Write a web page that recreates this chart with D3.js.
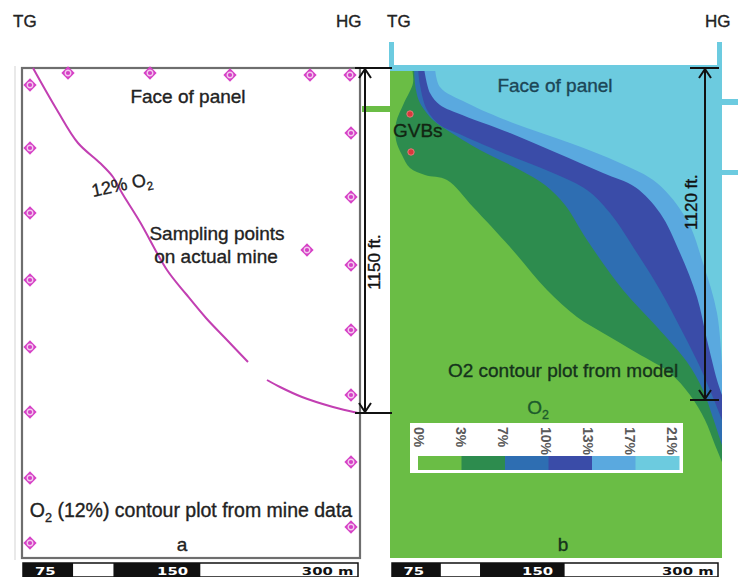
<!DOCTYPE html>
<head>
  <meta charset="utf-8">
  <script src="https://d3js.org/d3.v7.min.js"></script>
  <style>
    body { margin: 0; background: #fff; }
    text { font-family: "Liberation Sans", Arial, sans-serif; }
    .bar-label { font-family: "DejaVu Sans", sans-serif; font-weight: bold; font-size: 11px; }
  </style>
</head>
<body>
  <svg id="svg1"></svg>
  <script>
    var width = 738;
    var height = 577;

    // --- left panel: sampling points (panel units, 0..338 x 0..490)
    var sampleTopX = [8, 46, 128, 208, 288, 328];
    var sampleTopY = [17, 5, 5, 7, 7, 7];
    var sampleLeftY = [80, 145, 212, 279, 344, 410, 475];
    var sampleRightY = [65, 129, 197, 262, 327, 394, 459];
    var sampleInner = [[285, 182]];

    // 12% O2 contour traced from mine data (two pieces)
    var contour12a = [[11, 0], [35, 42], [56, 75], [78, 95], [91, 109], [100, 125], [118, 154],
                      [145, 202], [164, 226], [184, 250], [205, 272], [226, 294]];
    var contour12b = [[245, 312], [258, 319], [280, 329], [311, 339], [336, 345]];

    // --- right panel: model contour band edges (panel units, 0..332 x 0..490)
    var edge3 = [[22, 0], [23, 15], [14, 35], [6, 55], [6, 72], [12, 87], [20, 100], [35, 107], [57, 112],
                 [83, 139], [120, 179], [157, 222], [187, 249], [213, 265], [247, 285], [280, 305],
                 [300, 327], [315, 352], [325, 377], [332, 394]];
    var edge7 = [[24, 0], [26, 22], [30, 35], [43, 52], [57, 62], [90, 82], [130, 102], [155, 117],
                 [175, 137], [197, 172], [233, 222], [267, 259], [297, 294], [313, 322], [323, 350], [332, 377]];
    var edge10 = [[28, 0], [30, 17], [37, 42], [50, 57], [67, 65], [113, 85], [163, 105], [197, 122],
                  [220, 145], [247, 185], [270, 222], [293, 265], [310, 299], [322, 327], [332, 352]];
    var edge13 = [[34, 0], [40, 25], [50, 37], [67, 45], [120, 65], [167, 85], [213, 105], [245, 119],
                  [270, 145], [290, 185], [307, 229], [317, 272], [327, 312], [332, 327]];
    var edge17 = [[45, 0], [50, 19], [77, 35], [123, 55], [180, 75], [230, 95], [267, 115], [297, 152],
                  [313, 195], [327, 245], [332, 297]];
    var bandEdges = [edge3, edge7, edge10, edge13, edge17];

    var legendLabels = ["0%", "3%", "7%", "10%", "13%", "17%", "21%"];
    var bandColors = ["#6abd45", "#2d8c4e", "#2e6eb2", "#3a4ca8", "#5aa9df", "#6ccbdf"];

    // GVB locations (right panel units)
    var gvbPts = [[20, 46], [21, 84]];

    // scale bar (m)
    var barBreaks = [0, 45, 81, 159, 300];
    var barTexts = ["75", "150", "300 m"];
    var barTextPos = [20, 134, 296];

    var svg = d3.select("#svg1")
      .attr("width", width)
      .attr("height", height);

    var xL = d3.scaleLinear().domain([0, 338]).range([22, 360]);
    var yL = d3.scaleLinear().domain([0, 490]).range([68, 558]);
    var xR = d3.scaleLinear().domain([0, 332]).range([390, 722]);
    var yR = d3.scaleLinear().domain([0, 490]).range([68, 558]);

    //helper for text with O2 subscripts (thin stroke to mimic the heavier scanned type)
    function label(x, y, parts, size, color, anchor) {
      var t = svg.append("text")
        .attr("x", x).attr("y", y)
        .attr("font-size", size)
        .attr("fill", color)
        .attr("stroke", color)
        .attr("stroke-width", 0.35)
        .attr("text-anchor", anchor || "middle");
      parts.forEach(function(p) {
        if (p.sub) {
          t.append("tspan").attr("dy", size * 0.28).attr("font-size", size * 0.65).text(p.s);
        } else {
          t.append("tspan").attr("dy", p.after ? -size * 0.28 : 0).text(p.s);
        }
      });
      return t;
    }

    // ===== left panel =====
    svg.append("line")
      .attr("x1", 15).attr("x2", 15).attr("y1", 66).attr("y2", 560)
      .attr("stroke", "#e2e2e2").attr("stroke-width", 1.5);
    svg.append("rect")
      .attr("x", xL(0)).attr("y", yL(0))
      .attr("width", xL(338) - xL(0)).attr("height", yL(490) - yL(0))
      .attr("fill", "#fff")
      .attr("stroke", "#6e6e6e").attr("stroke-width", 2.2);

    var line = d3.line()
      .x(function(d) { return xL(d[0]); })
      .y(function(d) { return yL(d[1]); })
      .curve(d3.curveCatmullRom);

    [contour12a, contour12b].forEach(function(c) {
      svg.append("path")
        .attr("d", line(c))
        .attr("fill", "none")
        .attr("stroke", "#c23fb2")
        .attr("stroke-width", 2);
    });

    var samples = [];
    sampleTopX.forEach(function(x, i) { samples.push([x, sampleTopY[i]]); });
    sampleLeftY.forEach(function(y) { samples.push([8, y]); });
    sampleRightY.forEach(function(y) { samples.push([329, y]); });
    sampleInner.forEach(function(p) { samples.push(p); });

    var marks = svg.selectAll(".sample")
      .data(samples).enter()
      .append("g")
      .attr("class", "sample")
      .attr("transform", function(d) { return "translate(" + xL(d[0]) + "," + yL(d[1]) + ")"; });
    marks.append("path")
      .attr("d", d3.symbol().type(d3.symbolSquare).size(88))
      .attr("transform", "rotate(45)")
      .attr("fill", "#d641c6");
    marks.append("circle")
      .attr("r", 2.8)
      .attr("fill", "none")
      .attr("stroke", "#f3c9ee")
      .attr("stroke-width", 1.4);
    marks.append("circle")
      .attr("r", 1)
      .attr("fill", "#d641c6");

    label(188, 103, [{s: "Face of panel"}], 19, "#222");
    label(93, 197, [{s: "12% O"}, {s: "2", sub: true}], 18, "#222", "start")
      .attr("transform", "rotate(-12,93,197)");
    label(217, 240, [{s: "Sampling points"}], 19, "#222");
    label(216, 263, [{s: "on actual mine"}], 19, "#222");
    label(191, 517, [{s: "O"}, {s: "2", sub: true}, {s: " (12%) contour plot from mine data", after: true}], 19.5, "#222");
    label(182, 551, [{s: "a"}], 19, "#222");

    // ===== right panel =====
    svg.append("rect")
      .attr("x", xR(0)).attr("y", yR(0))
      .attr("width", xR(332) - xR(0)).attr("height", yR(490) - yR(0))
      .attr("fill", bandColors[0]);

    var bandLine = d3.line()
      .x(function(d) { return xR(d[0]); })
      .y(function(d) { return yR(d[1]); })
      .curve(d3.curveCatmullRom);

    bandEdges.forEach(function(edge, i) {
      svg.append("path")
        .attr("d", bandLine(edge) + "L" + xR(332) + "," + yR(0) + "Z")
        .attr("fill", bandColors[i + 1]);
    });

    // face strip and gate markers
    svg.append("rect").attr("x", xR(0)).attr("y", 65).attr("width", xR(332) - xR(0)).attr("height", 6).attr("fill", "#6ccbe0");
    svg.append("rect").attr("x", 389).attr("y", 42).attr("width", 5).attr("height", 26).attr("fill", "#6ccbe0");
    svg.append("rect").attr("x", 717).attr("y", 42).attr("width", 5).attr("height", 26).attr("fill", "#6ccbe0");
    svg.append("rect").attr("x", 722).attr("y", 99).attr("width", 16).attr("height", 6).attr("fill", "#6ccbe0");
    svg.append("rect").attr("x", 722).attr("y", 170).attr("width", 16).attr("height", 5).attr("fill", "#6ccbe0");
    svg.append("rect").attr("x", 362).attr("y", 106).attr("width", 28).attr("height", 6).attr("fill", bandColors[0]);

    svg.selectAll(".gvb")
      .data(gvbPts).enter()
      .append("circle")
      .attr("class", "gvb")
      .attr("cx", function(d) { return xR(d[0]); })
      .attr("cy", function(d) { return yR(d[1]); })
      .attr("r", 3.2)
      .attr("fill", "#d9383c")
      .attr("stroke", "#e77a7a")
      .attr("stroke-width", 1);

    label(555, 92, [{s: "Face of panel"}], 19, "#1c4656");
    label(393, 137, [{s: "GVBs"}], 19, "#122512", "start");
    label(563, 377, [{s: "O2 contour plot from model"}], 19, "#15331c");
    label(538, 414, [{s: "O"}, {s: "2", sub: true}], 19, "#1c5a2c");
    label(563, 551, [{s: "b"}], 19, "#15331c");

    // legend
    svg.append("rect").attr("x", 410).attr("y", 423).attr("width", 273).attr("height", 50).attr("fill", "#fff");
    var legBand = d3.scaleBand().domain(d3.range(6)).range([418, 679]);
    svg.selectAll(".legcell")
      .data(bandColors).enter()
      .append("rect")
      .attr("class", "legcell")
      .attr("x", function(d, i) { return legBand(i); })
      .attr("y", 456)
      .attr("width", legBand.bandwidth() + 0.5)
      .attr("height", 14)
      .attr("fill", function(d) { return d; });
    var legPos = d3.scalePoint().domain(legendLabels).range([419, 672]);
    svg.selectAll(".legtxt")
      .data(legendLabels).enter()
      .append("text")
      .attr("class", "legtxt")
      .attr("transform", function(d) { return "translate(" + legPos(d) + ",427) rotate(90)"; })
      .attr("dy", "0.35em")
      .attr("font-size", 14)
      .attr("font-weight", "bold")
      .attr("fill", "#5a5a5a")
      .text(function(d) { return d; });

    // ===== dimension arrows =====
    function dimArrow(x, y0, y1, xa, xb, lab, lx, ly, size) {
      var g = svg.append("g").attr("stroke", "#111").attr("stroke-width", 2).attr("fill", "none");
      g.append("line").attr("x1", x).attr("x2", x).attr("y1", y0).attr("y2", y1);
      g.append("line").attr("x1", xa).attr("x2", xb).attr("y1", y0).attr("y2", y0);
      g.append("line").attr("x1", xa).attr("x2", xb).attr("y1", y1).attr("y2", y1);
      g.append("path").attr("d", "M" + (x - 6) + "," + (y0 + 10) + "L" + x + "," + (y0 + 1) + "L" + (x + 6) + "," + (y0 + 10));
      g.append("path").attr("d", "M" + (x - 6) + "," + (y1 - 10) + "L" + x + "," + (y1 - 1) + "L" + (x + 6) + "," + (y1 - 10));
      svg.append("text")
        .attr("transform", "translate(" + lx + "," + ly + ") rotate(-90)")
        .attr("text-anchor", "middle")
        .attr("font-size", size)
        .attr("fill", "#111")
        .attr("stroke", "#111")
        .attr("stroke-width", 0.35)
        .text(lab);
    }
    dimArrow(365, 68, 413, 355, 392, "1150 ft.", 380, 262, 17);
    dimArrow(705, 68, 400, 690, 719, "1120 ft.", 697, 202, 17);

    // ===== gate labels =====
    label(13, 27, [{s: "TG"}], 17, "#222", "start");
    label(336, 27, [{s: "HG"}], 17, "#222", "start");
    label(387, 27, [{s: "TG"}], 17, "#222", "start");
    label(705, 27, [{s: "HG"}], 17, "#222", "start");

    // ===== scale bars =====
    function scaleBar(x0, x1) {
      var s = d3.scaleLinear().domain([0, 300]).range([x0, x1]);
      var g = svg.append("g");
      for (var i = 0; i < barBreaks.length - 1; i++) {
        g.append("rect")
          .attr("x", s(barBreaks[i])).attr("y", 563)
          .attr("width", s(barBreaks[i + 1]) - s(barBreaks[i])).attr("height", 14)
          .attr("fill", i % 2 == 0 ? "#111" : "#fff");
      }
      g.append("rect").attr("x", x0).attr("y", 563).attr("width", x1 - x0).attr("height", 14)
        .attr("fill", "none").attr("stroke", "#111").attr("stroke-width", 1.5);
      barTexts.forEach(function(t, i) {
        var txt = g.append("text")
          .attr("class", "bar-label")
          .attr("x", s(barTextPos[i])).attr("y", 575)
          .attr("text-anchor", i == 2 ? "end" : "middle")
          .attr("fill", i == 2 ? "#111" : "#fff")
          .text(t);
        // stretch the wide stencil-like digits
        var w = txt.node().getComputedTextLength();
        txt.attr("textLength", w * 1.35).attr("lengthAdjust", "spacingAndGlyphs");
      });
    }
    scaleBar(23, 358);
    scaleBar(392, 718);
  </script>
</body>
